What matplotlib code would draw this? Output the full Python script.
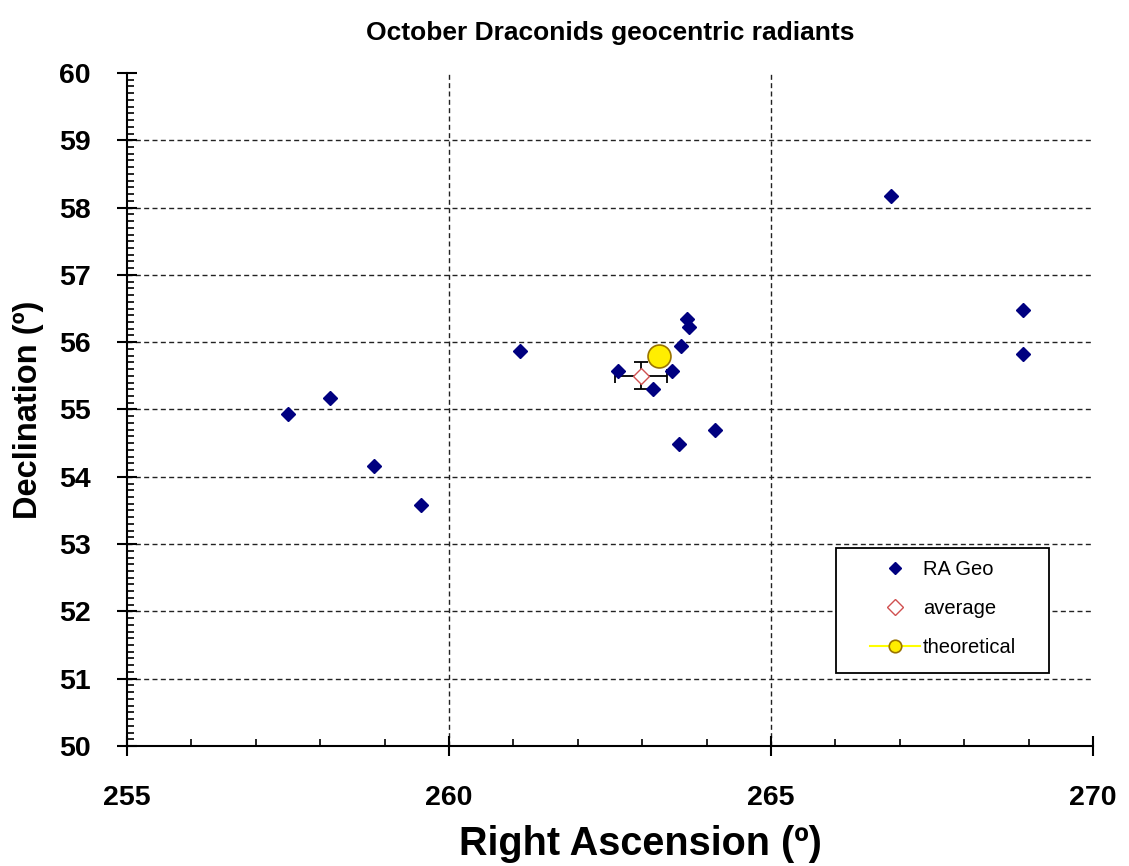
import numpy as np
import matplotlib.pyplot as plt
from matplotlib.ticker import MultipleLocator
from matplotlib.patches import Rectangle

plt.rcParams['font.family'] = ['Liberation Sans', 'DejaVu Sans']

# Datos: radiantes geocéntricos (AR, Dec)
ra_geo = [257.5, 258.15, 258.84, 259.57, 261.11, 262.63, 263.16, 263.47,
          263.61, 263.69, 263.72, 263.57, 264.13, 266.86, 268.91, 268.91]
dec_geo = [54.93, 55.17, 54.16, 53.58, 55.87, 55.57, 55.30, 55.57,
           55.95, 56.34, 56.22, 54.49, 54.70, 58.17, 56.48, 55.82]

avg_ra, avg_dec = [262.98], [55.50]
avg_err_ra, avg_err_dec = [0.40], [0.20]

theo_ra, theo_dec = [263.26], [55.79]

fig = plt.figure(figsize=(11.29, 8.66), dpi=100)
ax = fig.add_axes([0.1125, 0.1386, 0.8556, 0.7771])

ax.plot(ra_geo, dec_geo, linestyle='none', marker='D', markersize=6.8,
        color='#000080', label='RA Geo', zorder=4)
ax.errorbar(avg_ra, avg_dec, xerr=avg_err_ra, yerr=avg_err_dec, fmt='none',
            ecolor='black', elinewidth=1.3, capsize=5, capthick=1.3, zorder=3)
ax.plot(avg_ra, avg_dec, linestyle='none', marker='D', markersize=8.2,
        markerfacecolor='white', markeredgecolor='#d05050', markeredgewidth=1,
        label='average', zorder=5)
ax.plot(theo_ra, theo_dec, color='#ffff00', linestyle='-', marker='o',
        markersize=16.5, markerfacecolor='#ffee00', markeredgecolor='#9a7400',
        markeredgewidth=1.2, label='theoretical', zorder=6)

ax.set_xlim(255, 270)
ax.set_ylim(50, 60)
ax.xaxis.set_major_locator(MultipleLocator(5))
ax.xaxis.set_minor_locator(MultipleLocator(1))
ax.yaxis.set_major_locator(MultipleLocator(1))
ax.yaxis.set_minor_locator(MultipleLocator(0.1))

ax.grid(True, which='major', color='#222222', linestyle=(0, (3.6, 2.4)), linewidth=1)
ax.set_axisbelow(True)

for s in ['top', 'right']:
    ax.spines[s].set_visible(False)
for s in ['left', 'bottom']:
    ax.spines[s].set_linewidth(1.5)

ax.tick_params(which='major', direction='inout', length=14, width=1.5,
               labelsize=20.5)
ax.tick_params(axis='x', which='major', pad=21)
ax.tick_params(axis='y', which='major', pad=19)
ax.tick_params(which='minor', direction='in', length=5, width=1.2)
for lab in ax.get_xticklabels() + ax.get_yticklabels():
    lab.set_fontweight('bold')

ax.set_xlabel('Right Ascension (º)', fontsize=28.5, fontweight='bold')
ax.xaxis.set_label_coords(0.532, -0.162)
ax.xaxis.label.set_va('baseline')
ax.set_ylabel('Declination (º)', fontsize=23.5, fontweight='bold', labelpad=11)
ax.set_title('October Draconids geocentric radiants', fontsize=19,
             fontweight='bold', pad=24)

# marco de la leyenda dibujado aparte
ax.add_patch(Rectangle((0.734, 0.1085), 0.220, 0.1855, transform=ax.transAxes,
                       facecolor='white', edgecolor='black', linewidth=1.3,
                       zorder=7))
leg = ax.legend(loc='upper left', bbox_to_anchor=(0.769, 0.2766),
                fontsize=14.5, frameon=False, borderpad=0, borderaxespad=0,
                labelspacing=1.0, handlelength=2.5, handletextpad=0.15)
leg.set_zorder(8)
sizes = [6.5, 8.2, 9]
for h, ms in zip(leg.legend_handles, sizes):
    h.set_markersize(ms)

# sin grilla en los bordes
for gl in ax.get_xgridlines():
    if gl.get_xdata()[0] in (255, 270):
        gl.set_visible(False)
for gl in ax.get_ygridlines():
    if gl.get_ydata()[0] in (50, 60):
        gl.set_visible(False)

fig.savefig('out.png', dpi=100)
